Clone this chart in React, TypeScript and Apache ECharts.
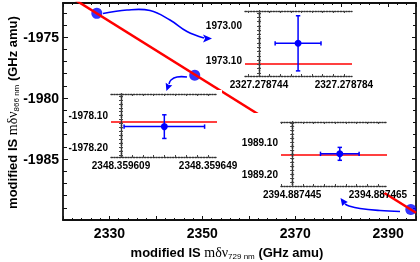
import React, { useEffect, useRef } from "react";
import * as echarts from "echarts";

// main data (GHz amu)
const mainX = [2327.2787624, 2348.3596289, 2394.8874561];
const mainY = [-1973.051, -1978.134, -1989.136];
const fitX = [2320, 2396];
const fitY = [-1971.32, -1989.41];
const xTickLabels = [2330, 2350, 2370, 2390];
const yTickLabels = [-1985, -1980, -1975];

// insets
const insetXErr = [0.0000108, 0.0000185, 0.0000045];
const insetYErr = [0.081, 0.037, 0.0205];
const insetYSign = [-1, 1, -1];
const insetFit = [1973.107, -1978.116, 1989.138];
const insetXBase = [2327.278744, 2348.359609, 2394.887445];
const insetXStep = [0.00004, 0.00004, 0.00002];
const insetXMin = [2327.2787374, 2348.3596044, 2394.8874424];
const insetXMax = [2327.2787878, 2348.3596531, 2394.8874671];
const insetYTicks = [[1973.0, 1973.1], [-1978.2, -1978.1], [1989.1, 1989.2]];
const insetYMin = [1972.956, -1978.229, 1989.035];
const insetYMax = [1973.147, -1978.032, 1989.238];
const insetInverse = [true, false, true];

const BLUE = "#0000ff";
const RED = "#ff0000";
const FONT = "Liberation Sans";

export default function App() {
  const ref = useRef<HTMLDivElement>(null);
  useEffect(() => {
    if (!ref.current) return;
    const chart = echarts.init(ref.current, undefined, { renderer: "svg" });

    const grids: any[] = [
      { left: 63, top: 3, width: 353, height: 217 },
      { left: 245, top: 11, width: 107, height: 65 },
      { left: 111, top: 94, width: 106, height: 63 },
      { left: 281, top: 122, width: 106, height: 64 },
    ];

    const mainLine = { lineStyle: { color: "#111", width: 1.8 } };
    const xAxes: any[] = [
      {
        type: "value", gridIndex: 0, min: 2320, max: 2396, interval: 10,
        axisLine: mainLine,
        axisTick: { inside: true, length: 4, lineStyle: { color: "#111" } },
        minorTick: { show: true, splitNumber: 5, length: 2, lineStyle: { color: "#111" } },
        axisLabel: {
          customValues: xTickLabels, margin: 6, fontFamily: FONT, fontWeight: "bold",
          fontSize: 14, color: "#000", formatter: (v: number) => String(v),
        },
        splitLine: { show: false },
      },
      {
        type: "value", gridIndex: 0, position: "top", min: 2320, max: 2396, interval: 10,
        axisLine: mainLine,
        axisTick: { inside: true, length: 4, lineStyle: { color: "#111" } },
        minorTick: { show: true, splitNumber: 5, length: 2, lineStyle: { color: "#111" } },
        axisLabel: { show: false },
        splitLine: { show: false },
      },
    ];
    const yAxes: any[] = [
      {
        type: "value", gridIndex: 0, min: -1990, max: -1972.2, interval: 5,
        axisLine: mainLine,
        axisTick: { inside: true, length: 5, lineStyle: { color: "#111" } },
        minorTick: { show: true, splitNumber: 5, length: 4, lineStyle: { color: "#111" } },
        axisLabel: {
          customValues: yTickLabels, margin: 4, fontFamily: FONT, fontWeight: "bold",
          fontSize: 14, color: "#000", formatter: (v: number) => String(v),
        },
        splitLine: { show: false },
      },
      {
        type: "value", gridIndex: 0, position: "right", min: -1990, max: -1972.2, interval: 5,
        axisLine: mainLine,
        axisTick: { inside: true, length: 4, lineStyle: { color: "#111" } },
        minorTick: { show: true, splitNumber: 5, length: 3, lineStyle: { color: "#111" } },
        axisLabel: { show: false },
        splitLine: { show: false },
      },
    ];

    const series: any[] = [
      {
        type: "scatter", xAxisIndex: 0, yAxisIndex: 0, z: 2,
        data: mainX.map((x, i) => [x, mainY[i]]),
        symbolSize: 11, itemStyle: { color: BLUE }, silent: true,
      },
      {
        type: "line", xAxisIndex: 0, yAxisIndex: 0, z: 3,
        data: fitX.map((x, i) => [x, fitY[i]]),
        showSymbol: false, lineStyle: { color: RED, width: 2.5 }, silent: true,
      },
    ];

    const insetLine = { lineStyle: { color: "#333", width: 1.4, type: "dotted" } };
    for (let k = 0; k < 3; k++) {
      const g = k + 1;
      const base = insetXBase[k];
      const stepU = Math.round(insetXStep[k] * 1e6);
      const xmin = (insetXMin[k] - base) * 1e6;
      const xmax = (insetXMax[k] - base) * 1e6;
      const xTicks: number[] = [];
      for (let v = Math.ceil(xmin / (stepU / 8)) * (stepU / 8); v <= xmax; v += stepU / 8) xTicks.push(v);
      const yStep = (insetYTicks[k][1] - insetYTicks[k][0]) / 8;
      const yTicks: number[] = [];
      const ylo = Math.min(...insetYTicks[k]);
      for (let v = ylo - Math.floor((ylo - insetYMin[k]) / yStep) * yStep; v <= insetYMax[k]; v += yStep) yTicks.push(v);
      const common = { gridIndex: g, z: 5, splitLine: { show: false }, axisLine: insetLine };
      xAxes.push({
        ...common, type: "value", min: xmin, max: xmax,
        axisTick: { inside: true, length: 2, customValues: xTicks, lineStyle: { color: "#444" } },
        axisLabel: {
          customValues: [0, stepU], margin: 3, fontFamily: FONT, fontWeight: "bold", fontSize: 10,
          color: "#000", formatter: (v: number) => (base + v / 1e6).toFixed(6),
        },
      });
      xAxes.push({
        ...common, type: "value", position: "top", min: xmin, max: xmax,
        axisTick: { inside: true, length: 2, customValues: xTicks, lineStyle: { color: "#444" } },
        axisLabel: { show: false },
      });
      yAxes.push({
        ...common, type: "value", min: insetYMin[k], max: insetYMax[k], inverse: insetInverse[k],
        axisTick: { inside: true, length: 2, customValues: yTicks, lineStyle: { color: "#444" } },
        axisLabel: {
          customValues: insetYTicks[k], margin: 3, fontFamily: FONT, fontWeight: "bold", fontSize: 10,
          color: "#000", formatter: (v: number) => v.toFixed(2),
        },
      });
      yAxes.push({
        ...common, type: "value", position: "right", min: insetYMin[k], max: insetYMax[k], inverse: insetInverse[k],
        axisTick: { inside: true, length: 2, customValues: yTicks, lineStyle: { color: "#444" } },
        axisLabel: { show: false },
      });
      series.push({
        type: "custom", xAxisIndex: 2 * g, yAxisIndex: 2 * g, z: 6, silent: true,
        data: [[(mainX[k] - base) * 1e6, insetYSign[k] * mainY[k], insetXErr[k] * 1e6, insetYErr[k]]],
        renderItem: (params: any, api: any) => {
          const x = api.value(0), y = api.value(1), xe = api.value(2), ye = api.value(3);
          const c = api.coord([x, y]);
          const l = api.coord([x - xe, y]);
          const r = api.coord([x + xe, y]);
          const t = api.coord([x, y - ye]);
          const b = api.coord([x, y + ye]);
          const st = { stroke: BLUE, lineWidth: 1.5 };
          const cap = 2.2;
          return {
            type: "group",
            children: [
              { type: "line", shape: { x1: l[0], y1: l[1], x2: r[0], y2: r[1] }, style: st },
              { type: "line", shape: { x1: t[0], y1: t[1], x2: b[0], y2: b[1] }, style: st },
              { type: "line", shape: { x1: l[0], y1: l[1] - cap, x2: l[0], y2: l[1] + cap }, style: st },
              { type: "line", shape: { x1: r[0], y1: r[1] - cap, x2: r[0], y2: r[1] + cap }, style: st },
              { type: "line", shape: { x1: t[0] - cap, y1: t[1], x2: t[0] + cap, y2: t[1] }, style: st },
              { type: "line", shape: { x1: b[0] - cap, y1: b[1], x2: b[0] + cap, y2: b[1] }, style: st },
              { type: "circle", shape: { cx: c[0], cy: c[1], r: 3.5 }, style: { fill: BLUE } },
            ],
          };
        },
        markLine: {
          silent: true, symbol: "none", z: 5,
          label: { show: false },
          lineStyle: { color: RED, width: 1.5, type: "solid" },
          data: [{ yAxis: insetFit[k] }],
        },
      });
    }

    const arrowStyle = { stroke: BLUE, lineWidth: 1.6, fill: null };
    const titleRich = {
      b: { fontFamily: FONT, fontWeight: "bold", fontSize: 13, fill: "#000", lineHeight: 16 },
      m: { fontFamily: "Liberation Serif", fontSize: 14, fill: "#000", lineHeight: 16 },
      s: { fontFamily: FONT, fontSize: 8, fill: "#000", lineHeight: 10, verticalAlign: "bottom" },
    };

    chart.setOption({
      animation: false,
      grid: grids,
      xAxis: xAxes,
      yAxis: yAxes,
      series,
      graphic: [
        { type: "rect", z: 4, silent: true, shape: { x: 249, y: 113, width: 136, height: 80 }, style: { fill: "#fff" } },
        { type: "rect", z: 4, silent: true, shape: { x: 237, y: 7, width: 121, height: 84 }, style: { fill: "#fff" } },
        { type: "rect", z: 4, silent: true, shape: { x: 90, y: 90, width: 132, height: 81 }, style: { fill: "#fff" } },
        {
          type: "polyline", z: 7, silent: true,
          shape: { points: [[103, 13.5], [127, 10], [150, 10.5], [170, 20], [187, 31.5], [204, 38]], smooth: 0.4 },
          style: arrowStyle,
        },
        { type: "polygon", z: 7, silent: true, shape: { points: [[212, 38.5], [203, 34.5], [205, 38.5], [203, 42.5]] }, style: { fill: BLUE } },
        {
          type: "polyline", z: 7, silent: true,
          shape: { points: [[187, 77], [177, 77], [171, 80], [169, 84]], smooth: 0.4 },
          style: arrowStyle,
        },
        { type: "polygon", z: 7, silent: true, shape: { points: [[166.4, 91], [165.7, 82.7], [169, 85], [172.3, 85.3]] }, style: { fill: BLUE } },
        {
          type: "polyline", z: 7, silent: true,
          shape: { points: [[400, 211.5], [380, 210.5], [360, 208.5], [349, 206], [345, 204]], smooth: 0.4 },
          style: arrowStyle,
        },
        { type: "polygon", z: 7, silent: true, shape: { points: [[340.5, 198], [347.8, 201.9], [345, 203.5], [342.2, 206.1]] }, style: { fill: BLUE } },
        {
          type: "text", z: 7, silent: true, x: 227, y: 252,
          style: {
            text: "{b|modified IS }{m|mδν}{s|729 nm}{b| (GHz amu)}", rich: titleRich,
            align: "center", verticalAlign: "middle", textAlign: "center", textVerticalAlign: "middle",
          },
        },
        {
          type: "text", z: 7, silent: true, x: 12, y: 112.5, rotation: Math.PI / 2,
          style: {
            text: "{b|modified IS }{m|mδν}{s|866 nm}{b| (GHz amu)}", rich: titleRich,
            align: "center", verticalAlign: "middle", textAlign: "center", textVerticalAlign: "middle",
          },
        },
      ],
    });
    return () => chart.dispose();
  }, []);
  return <div ref={ref} style={{ position: "fixed", left: 0, top: 0, width: 420, height: 262 }} />;
}
